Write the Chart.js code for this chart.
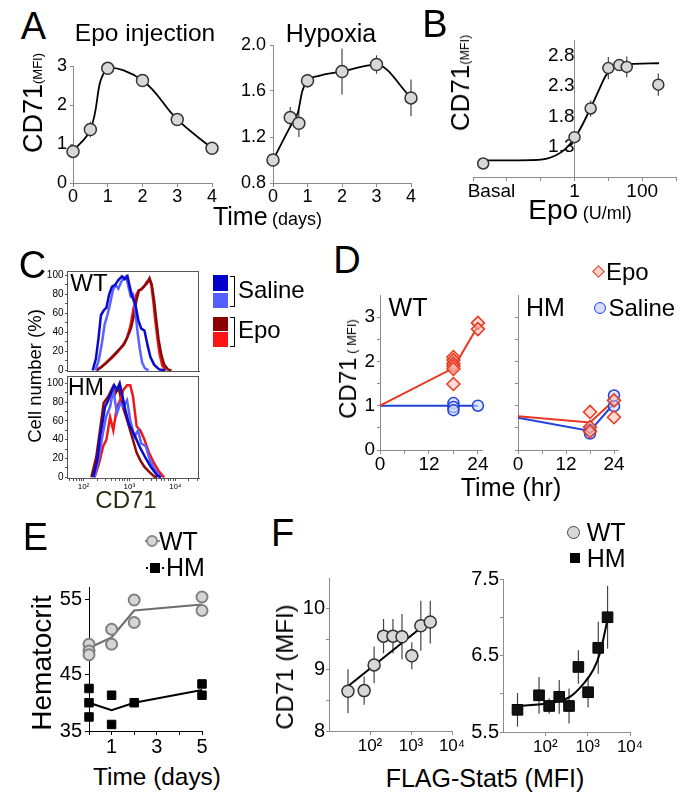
<!DOCTYPE html>
<html><head><meta charset="utf-8">
<script src="https://cdn.jsdelivr.net/npm/chart.js@4.4.1/dist/chart.umd.min.js"></script>
<style>
html,body{margin:0;padding:0;background:#fff;overflow:hidden}
#fig{position:relative;width:683px;height:801px;overflow:hidden;font-family:"Liberation Sans",Arial,Helvetica,sans-serif;color:#000}
#fig canvas{position:absolute}
.t{position:absolute;white-space:nowrap;line-height:1;transform:translate(-50%,-50%)}
.l{position:absolute;white-space:nowrap;line-height:1;transform:translate(0,-50%)}
.r{position:absolute;white-space:nowrap;line-height:1;transform:translate(-50%,-50%) rotate(-90deg)}
.m{position:absolute;box-sizing:border-box}
</style></head>
<body><div id="fig">
<div class="t" style="left:33.5px;top:26px;font-size:38px">A</div>
<div class="t" style="left:435px;top:23.5px;font-size:38px">B</div>
<div class="t" style="left:32.5px;top:264.5px;font-size:38px">C</div>
<div class="t" style="left:347px;top:260px;font-size:38px">D</div>
<div class="t" style="left:35.5px;top:537px;font-size:38px">E</div>
<div class="t" style="left:282.5px;top:532.5px;font-size:38px">F</div>

<div class="t" style="left:145px;top:33px;font-size:24.5px">Epo injection</div>
<div class="t" style="left:331px;top:33px;font-size:25px">Hypoxia</div>
<div class="r" style="left:33px;top:103px"><span style="font-size:27px">CD71</span><span style="font-size:13px">(MFI)</span></div>
<div class="t" style="left:267.5px;top:216px"><span style="font-size:25px">Time</span> <span style="font-size:18px">(days)</span></div>

<div class="r" style="left:460px;top:83px"><span style="font-size:26px">CD71</span><span style="font-size:12.5px">(MFI)</span></div>
<div class="t" style="left:580px;top:210px"><span style="font-size:28px">Epo</span> <span style="font-size:18px">(U/ml)</span></div>

<div class="t" style="left:89px;top:282.5px;font-size:24px">WT</div>
<div class="t" style="left:86px;top:386.5px;font-size:23px">HM</div>
<div class="r" style="left:35px;top:375.5px;font-size:18.5px">Cell number (%)</div>
<div class="t" style="left:126px;top:500px;font-size:24px;color:#2b2b10">CD71</div>
<div class="m" style="left:213px;top:275px;width:15px;height:15.5px;background:#0000CC"></div>
<div class="m" style="left:213px;top:292.5px;width:15px;height:15px;background:#5560FF"></div>
<div class="m" style="left:229.5px;top:276px;width:5px;height:31px;border:1.5px solid #000;border-left:none"></div>
<div class="l" style="left:238px;top:290px;font-size:24px">Saline</div>
<div class="m" style="left:213px;top:316.5px;width:15px;height:14px;background:#8B0000"></div>
<div class="m" style="left:213px;top:332px;width:15px;height:14.5px;background:#FF1414"></div>
<div class="m" style="left:229.5px;top:317px;width:5px;height:30px;border:1.5px solid #000;border-left:none"></div>
<div class="l" style="left:238px;top:330px;font-size:24px">Epo</div>

<div class="t" style="left:408px;top:306.5px;font-size:25px">WT</div>
<div class="t" style="left:545.5px;top:306.5px;font-size:25px">HM</div>
<div class="r" style="left:348px;top:369px"><span style="font-size:24px">CD71</span><span style="font-size:13px"> ( MFI)</span></div>
<div class="t" style="left:511px;top:487px;font-size:25px">Time (hr)</div>
<div class="m" style="left:593.5px;top:267.2px;width:9px;height:9px;border:1.5px solid #E9381F;background:#FAD3CB;transform:rotate(45deg)"></div>
<div class="l" style="left:606px;top:271.7px;font-size:24px">Epo</div>
<div class="m" style="left:594px;top:301.5px;width:12px;height:12px;border:1.5px solid #2242DA;background:#D6DFF7;border-radius:50%"></div>
<div class="l" style="left:608.5px;top:307.5px;font-size:24px">Saline</div>

<div class="m" style="left:145px;top:540px;width:15px;height:2px;background:#8a8a8a"></div>
<div class="m" style="left:145.7px;top:535px;width:12px;height:12px;border:2px solid #8a8a8a;background:#D6D6D6;border-radius:50%"></div>
<div class="l" style="left:159px;top:541px;font-size:25px">WT</div>
<div class="m" style="left:146px;top:566.5px;width:18px;height:0;border-top:2px dotted #000"></div>
<div class="m" style="left:150px;top:562.5px;width:10px;height:10px;background:#000"></div>
<div class="l" style="left:166px;top:567.3px;font-size:25px">HM</div>
<div class="r" style="left:41.7px;top:663px;font-size:28px">Hematocrit</div>
<div class="t" style="left:157px;top:776.7px;font-size:24.4px">Time (days)</div>

<div class="m" style="left:566.5px;top:525.7px;width:13px;height:13px;border:1.5px solid #444;background:#D8D8D8;border-radius:50%"></div>
<div class="l" style="left:586.7px;top:531.7px;font-size:25px">WT</div>
<div class="m" style="left:569.5px;top:552.7px;width:10px;height:10px;background:#000"></div>
<div class="l" style="left:586.7px;top:557.7px;font-size:25px">HM</div>
<div class="r" style="left:285px;top:666.7px;font-size:24px">CD71 (MFI)</div>
<div class="t" style="left:485px;top:778px;font-size:25px">FLAG-Stat5 (MFI)</div>
</div>
<script>
// ---------- Panel A ----------
const A_EPO_DAYS = [0, 0.5, 1, 2, 3, 4];
const A_EPO_CD71 = [0.81, 1.37, 2.94, 2.63, 1.63, 0.89];
const A_EPO_ERR  = [0.04, 0.2, 0.05, 0.04, 0.04, 0.03];
const A_HYP_DAYS = [0, 0.5, 0.75, 1, 2, 3, 4];
const A_HYP_CD71 = [1.0, 1.37, 1.32, 1.69, 1.77, 1.83, 1.54];
const A_HYP_ERR  = [0.02, 0.09, 0.12, 0.06, 0.2, 0.08, 0.16];
const A_HYP_FIT_DAYS = [0, 0.5, 0.72, 0.85, 1, 1.3, 2, 3, 4];
const A_HYP_FIT_CD71 = [1.0, 1.29, 1.41, 1.6, 1.69, 1.73, 1.77, 1.83, 1.54];
const A_X_TICKS = [0, 1, 2, 3, 4];
const A_EPO_Y_TICKS = [0, 1, 2, 3];
const A_HYP_Y_TICKS = [0.8, 1.2, 1.6, 2.0];
const A_HYP_Y_LABELS = ['0.8', '1.2', '1.6', '2.0'];

// ---------- Panel B ----------
const B_EPO  = [0.002, 1, 3, 10, 21, 35, 300];
const B_CD71 = [1.03, 1.46, 1.93, 2.59, 2.64, 2.61, 2.32];
const B_ERR  = [0.03, 0.05, 0.13, 0.18, 0.05, 0.17, 0.18];
const B_FIT_EPO  = [0.002, 0.087, 0.275, 0.54, 1, 1.7, 2.95, 5.25, 8.3, 13.2, 25.7, 316];
const B_FIT_CD71 = [1.08, 1.09, 1.16, 1.27, 1.44, 1.66, 1.93, 2.23, 2.46, 2.6, 2.65, 2.67];
const B_X_TICKS  = [0.001, 0.0035, 0.01, 0.1, 1, 10, 100, 1000];
const B_X_LABELS = ['', 'Basal', '', '', '1', '', '100', ''];
const B_Y_TICKS  = [1.3, 1.8, 2.3, 2.8];

// ---------- Panel C (log10 CD71 vs % of max) ----------
const C_WT_SAL1_X = [2.20, 2.27, 2.33, 2.38, 2.44, 2.50, 2.56, 2.62, 2.69, 2.76, 2.84, 2.90, 2.96, 3.01, 3.06, 3.13, 3.20, 3.26, 3.33, 3.40, 3.46, 3.54, 3.65, 3.78];
const C_WT_SAL1_Y = [0, 12, 35, 58, 63, 66, 80, 88, 90, 95, 99, 96, 99, 88, 78, 70, 52, 44, 42, 26, 14, 6, 1, 0];
const C_WT_SAL2_X = [2.26, 2.33, 2.40, 2.46, 2.52, 2.58, 2.64, 2.70, 2.76, 2.82, 2.88, 2.93, 2.98, 3.03, 3.08, 3.13, 3.18, 3.23, 3.28, 3.34, 3.42];
const C_WT_SAL2_Y = [0, 10, 28, 48, 58, 70, 84, 90, 86, 93, 97, 99, 88, 78, 80, 62, 40, 22, 8, 2, 0];
const C_WT_EPO1_X = [2.28, 2.38, 2.48, 2.58, 2.68, 2.78, 2.88, 2.96, 3.04, 3.10, 3.16, 3.21, 3.27, 3.33, 3.39, 3.44, 3.49, 3.54, 3.59, 3.64, 3.70, 3.76, 3.84, 3.92];
const C_WT_EPO1_Y = [0, 3, 7, 12, 17, 22, 27, 35, 45, 58, 75, 84, 86, 89, 92, 97, 90, 74, 52, 32, 16, 6, 1, 0];
const C_WT_EPO2_X = [2.28, 2.40, 2.52, 2.64, 2.74, 2.84, 2.94, 3.02, 3.08, 3.14, 3.20, 3.26, 3.32, 3.38, 3.44, 3.48, 3.52, 3.56, 3.61, 3.66, 3.72, 3.80];
const C_WT_EPO2_Y = [0, 4, 9, 14, 19, 25, 33, 46, 62, 78, 84, 85, 88, 93, 96, 90, 74, 55, 35, 17, 5, 0];
const C_HM_SAL1_X = [2.21, 2.30, 2.36, 2.41, 2.47, 2.54, 2.61, 2.67, 2.73, 2.79, 2.84, 2.91, 2.99, 3.06, 3.13, 3.24, 3.36, 3.47, 3.61, 3.69];
const C_HM_SAL1_Y = [0, 18, 43, 57, 75, 82, 91, 98, 93, 100, 89, 72, 57, 50, 43, 31, 20, 11, 2, 0];
const C_HM_SAL2_X = [2.24, 2.34, 2.41, 2.49, 2.58, 2.65, 2.73, 2.80, 2.87, 2.95, 3.02, 3.11, 3.19, 3.26, 3.36, 3.45, 3.56, 3.69];
const C_HM_SAL2_Y = [0, 22, 43, 64, 75, 93, 68, 79, 75, 82, 61, 43, 50, 36, 33, 18, 8, 0];
const C_HM_EPO1_X = [2.17, 2.28, 2.37, 2.44, 2.54, 2.64, 2.69, 2.76, 2.86, 2.95, 3.06, 3.16, 3.24, 3.33, 3.43, 3.54, 3.61];
const C_HM_EPO1_Y = [0, 22, 54, 79, 86, 96, 89, 96, 75, 61, 43, 26, 18, 11, 6, 1, 0];
const C_HM_EPO2_X = [2.24, 2.34, 2.43, 2.50, 2.58, 2.65, 2.73, 2.80, 2.87, 2.95, 3.02, 3.08, 3.16, 3.24, 3.33, 3.43, 3.54, 3.65, 3.76];
const C_HM_EPO2_Y = [0, 15, 33, 40, 64, 50, 75, 82, 93, 98, 98, 86, 54, 50, 40, 26, 15, 6, 0];
const C_Y_TICKS = [0, 10, 20, 30, 40, 50, 60, 70, 80, 90, 100];
const C_X_DECADES = [2, 3, 4];
const C_X_LABELS = ['10\u00B2', '10\u00B3', '10\u2074'];

// ---------- Panel D ----------
const D_WT_EPO_HR   = [18, 18, 18, 18, 18, 18, 24, 24];
const D_WT_EPO      = [2.10, 2.03, 1.95, 1.89, 1.83, 1.49, 2.87, 2.73];
const D_WT_EPO_MEAN = [1.0, 1.85, 2.8];
const D_WT_SAL_HR   = [18, 18, 18, 24];
const D_WT_SAL      = [1.06, 0.97, 0.9, 1.0];
const D_WT_SAL_MEAN = [1.0, 1.0, 1.0];
const D_HM_EPO_HR   = [18, 18, 18, 24, 24];
const D_HM_EPO      = [0.86, 0.52, 0.42, 1.12, 0.74];
const D_HM_EPO_MEAN = [0.76, 0.62, 1.12];
const D_HM_SAL_HR   = [18, 18, 24, 24];
const D_HM_SAL      = [0.45, 0.37, 1.23, 0.99];
const D_HM_SAL_MEAN = [0.73, 0.43, 1.05];
const D_MEAN_HR     = [0, 18, 24];
const D_X_TICKS  = [0, 6, 12, 18, 24];
const D_X_LABELS = ['0', '', '12', '', '24'];
const D_Y_TICKS  = [0, 0.5, 1, 1.5, 2, 2.5, 3];
const D_Y_LABELS = ['0', '', '1', '', '2', '', '3'];

// ---------- Panel E ----------
const E_WT_DAY  = [0, 0, 0, 1, 1, 2, 2, 5, 5];
const E_WT_HCT  = [49.1, 48.2, 47.7, 51.1, 49.1, 55.0, 52.0, 55.4, 53.6];
const E_HM_DAY  = [0, 0, 0, 1, 1, 2, 5, 5];
const E_HM_HCT  = [43.2, 41.3, 39.4, 42.3, 38.4, 41.3, 43.8, 42.3];
const E_MEAN_DAY = [0, 1, 2, 5];
const E_WT_MEAN = [48.6, 50.0, 53.6, 54.4];
const E_HM_MEAN = [41.3, 40.3, 41.3, 43.0];
const E_X_TICKS  = [0, 1, 2, 3, 4, 5];
const E_X_LABELS = ['', '1', '', '3', '', '5'];
const E_Y_TICKS  = [37.53, 45, 55];
const E_Y_LABELS = ['35', '45', '55'];

// ---------- Panel F ----------
const F_WT_STAT5 = [29, 72, 126, 214, 363, 603, 1047, 1738, 2951];
const F_WT_CD71  = [8.65, 8.66, 9.08, 9.55, 9.55, 9.54, 9.23, 9.72, 9.78];
const F_WT_ERR   = [0.36, 0.23, 0.3, 0.28, 0.28, 0.37, 0.22, 0.41, 0.35];
const F_WT_FIT_STAT5 = [29, 2951];
const F_WT_FIT_CD71  = [8.73, 9.81];
const F_HM_STAT5 = [22, 71, 123, 213, 363, 603, 1023, 1778, 2951];
const F_HM_CD71  = [5.79, 5.98, 5.84, 5.96, 5.84, 6.35, 6.02, 6.6, 7.0];
const F_HM_ERR   = [0.22, 0.24, 0.1, 0.22, 0.23, 0.22, 0.2, 0.34, 0.41];
const F_HM_FIT_STAT5 = [22, 129, 380, 794, 1349, 1950, 2951];
const F_HM_FIT_CD71  = [5.84, 5.88, 5.96, 6.13, 6.31, 6.53, 6.97];
const F_X_TICKS  = [100, 1000, 10000];
const F_X_LABELS = ['10\u00B2', '10\u00B3', '10\u2074'];
const F_WT_Y_TICKS  = [8, 8.5, 9, 9.5, 10];
const F_WT_Y_LABELS = ['8', '', '9', '', '10'];
const F_HM_Y_TICKS  = [5.5, 6, 6.5, 7, 7.5];
const F_HM_Y_LABELS = ['5.5', '', '6.5', '', '7.5'];

// ================= drawing =================
const FONT = '"Liberation Sans", Arial, Helvetica, sans-serif';
const GRAY = '#8c8c8c';
Chart.defaults.font.family = FONT;
Chart.defaults.color = '#000';

const errorBars = {
  id: 'errorBars',
  beforeDatasetsDraw(chart) {
    const ctx = chart.ctx;
    chart.data.datasets.forEach((ds, i) => {
      if (!ds.errors) return;
      const meta = chart.getDatasetMeta(i);
      const xs = chart.scales[meta.xAxisID], ys = chart.scales[meta.yAxisID];
      ctx.save();
      ctx.strokeStyle = ds.errorColor || '#444';
      ctx.lineWidth = 1.2;
      ds.data.forEach((p, j) => {
        const e = ds.errors[j];
        if (!e) return;
        const x = xs.getPixelForValue(p.x);
        ctx.beginPath();
        ctx.moveTo(x, ys.getPixelForValue(p.y - e));
        ctx.lineTo(x, ys.getPixelForValue(p.y + e));
        ctx.stroke();
      });
      ctx.restore();
    });
  }
};
const frame = {
  id: 'frame',
  afterDraw(chart, args, opts) {
    if (!opts || !opts.color) return;
    const a = chart.chartArea, ctx = chart.ctx;
    ctx.save(); ctx.strokeStyle = opts.color; ctx.lineWidth = 1;
    ctx.strokeRect(a.left + 0.5, a.top + 0.5, a.right - a.left - 1, a.bottom - a.top);
    ctx.restore();
  }
};
Chart.register(errorBars, frame);

const pts = (xs, ys) => xs.map((x, i) => ({ x, y: ys[i] }));
const lab = (vals, labels) => v => { const i = vals.findIndex(t => Math.abs(t - v) < 1e-9); return i >= 0 ? labels[i] : ''; };

function markers(xs, ys, o) {
  return Object.assign({ data: pts(xs, ys), showLine: false, pointRadius: 6, pointStyle: 'circle',
    pointBackgroundColor: '#D8D8D8', pointBorderColor: '#333', pointBorderWidth: 1.5, clip: false }, o);
}
function curve(xs, ys, o) {
  return Object.assign({ data: pts(xs, ys), showLine: true, pointRadius: 0, borderColor: '#000',
    borderWidth: 1.8, tension: 0, fill: false, clip: false }, o);
}
function scale(o) {
  const c = o.color || GRAY;
  return {
    type: o.type || 'linear', min: o.min, max: o.max, position: o.position,
    grid: { display: o.grid !== false, drawOnChartArea: false, drawTicks: true, tickLength: o.tl ?? 4,
      color: c, tickColor: o.tickColor || c, lineWidth: 1 },
    border: { display: true, color: c, width: 1 },
    ticks: { autoSkip: false, maxRotation: 0, minRotation: 0, padding: o.pad ?? 2, color: '#000',
      display: o.showLabels !== false,
      font: { size: o.fs || 18, family: FONT },
      callback: v => (o.label ? o.label(v) : String(v)) },
    afterBuildTicks: s => { s.ticks = o.ticks.map(v => ({ value: v })); }
  };
}
const zeroPad = s => { s.paddingLeft = 0; s.paddingRight = 0; s.paddingTop = 0; s.paddingBottom = 0; };

function mk(rect, pad, datasets, xs, ys, plugins) {
  const fig = document.getElementById('fig');
  const cv = document.createElement('canvas');
  const W = rect.r - rect.l + pad.l + pad.r, H = rect.b - rect.t + pad.t + pad.b;
  cv.width = W; cv.height = H;
  cv.style.left = (rect.l - pad.l) + 'px'; cv.style.top = (rect.t - pad.t) + 'px';
  cv.style.width = W + 'px'; cv.style.height = H + 'px';
  fig.insertBefore(cv, fig.firstChild);
  const floatY = typeof ys.position === 'object' && ys.position !== null;
  if (!floatY) ys.position = 'left';
  xs.position = 'bottom';
  xs.afterFit = s => { s.height = pad.b; zeroPad(s); };
  ys.afterFit = s => { if (!floatY) s.width = pad.l; zeroPad(s); };
  return new Chart(cv, {
    type: 'scatter',
    data: { datasets },
    options: {
      responsive: false, animation: false, devicePixelRatio: 1,
      layout: { padding: { top: pad.t, right: pad.r, left: floatY ? pad.l : 0, bottom: 0 } },
      scales: { x: xs, y: ys },
      plugins: Object.assign({ legend: { display: false }, tooltip: { enabled: false } }, plugins || {})
    }
  });
}

// ---- A: Epo injection
mk({ l: 73, t: 66, r: 212, b: 183 }, { l: 34, t: 14, r: 16, b: 30 }, [
  markers(A_EPO_DAYS, A_EPO_CD71, { errors: A_EPO_ERR }),
  curve(A_EPO_DAYS, A_EPO_CD71, { tension: 0.4 })
], scale({ min: 0, max: 4, ticks: A_X_TICKS, fs: 18, tl: 4, pad: -1 }),
   scale({ min: 0, max: 3, ticks: A_EPO_Y_TICKS, fs: 18, tl: 3, pad: 3 }));

// ---- A: Hypoxia
mk({ l: 273, t: 45, r: 411, b: 183 }, { l: 46, t: 14, r: 16, b: 30 }, [
  markers(A_HYP_DAYS, A_HYP_CD71, { errors: A_HYP_ERR }),
  curve(A_HYP_FIT_DAYS, A_HYP_FIT_CD71, { cubicInterpolationMode: 'monotone' })
], scale({ min: 0, max: 4, ticks: A_X_TICKS, fs: 18, tl: 4, pad: -1 }),
   scale({ min: 0.8, max: 2.0, ticks: A_HYP_Y_TICKS, label: lab(A_HYP_Y_TICKS, A_HYP_Y_LABELS), fs: 18, tl: 3, pad: 4 }));

// ---- B: Epo dose
const B_BASAL_AT = B_X_TICKS[B_X_LABELS.indexOf('Basal')];
mk({ l: 473, t: 40, r: 677, b: 177 }, { l: 22, t: 12, r: 6, b: 34 }, [
  markers(B_EPO, B_CD71, { errors: B_ERR, pointRadius: 5.5 }),
  curve(B_FIT_EPO, B_FIT_CD71, { cubicInterpolationMode: 'monotone' })
], scale({ type: 'logarithmic', min: 0.001, max: 1000, ticks: B_X_TICKS, label: lab(B_X_TICKS, B_X_LABELS),
           fs: 19, tl: 4, pad: -1, tickColor: ctx => (ctx.tick && Math.abs(ctx.tick.value - B_BASAL_AT) < 1e-9 ? 'rgba(0,0,0,0)' : GRAY) }),
   scale({ min: 0.809, max: 3.05, ticks: B_Y_TICKS, label: v => v.toFixed(1), position: { x: 1 }, grid: false, fs: 19, tl: 0, pad: 13 }));

// ---- C: histograms
const C_X_TICKS = [];
for (let d = 1; d <= 4; d++) for (let k = 1; k <= 9; k++) { const v = d + Math.log10(k); if (v >= 1.64 && v <= 4.52) C_X_TICKS.push(v); }
const cLine = (xs, ys, color) => curve(xs, ys, { borderColor: color, borderWidth: 2.5 });
const C_DB = '#0A0ACF', C_LB = '#5A62FF', C_DR = '#8B0A0A', C_RD = '#F01818';
mk({ l: 67, t: 271, r: 199, b: 371 }, { l: 24, t: 4, r: 4, b: 4 }, [
  cLine(C_WT_SAL1_X, C_WT_SAL1_Y, C_DB),
  cLine(C_WT_SAL2_X, C_WT_SAL2_Y, C_LB),
  cLine(C_WT_EPO1_X, C_WT_EPO1_Y, C_DR),
  cLine(C_WT_EPO2_X, C_WT_EPO2_Y, C_RD)
], scale({ min: 1.64, max: 4.52, ticks: C_X_TICKS, grid: false, showLabels: false, color: '#555', fs: 8 }),
   scale({ min: -0.7, max: 104.6, ticks: C_Y_TICKS, label: v => (v % 20 === 0 ? String(v) : ''), fs: 10, tl: 2, pad: 1.5, color: '#555' }),
   { frame: { color: '#555' } });
mk({ l: 67, t: 376, r: 199, b: 478 }, { l: 24, t: 4, r: 6, b: 16 }, [
  cLine(C_HM_SAL1_X, C_HM_SAL1_Y, C_DB),
  cLine(C_HM_SAL2_X, C_HM_SAL2_Y, C_LB),
  cLine(C_HM_EPO2_X, C_HM_EPO2_Y, C_RD),
  cLine(C_HM_EPO1_X, C_HM_EPO1_Y, C_DR)
], scale({ min: 1.64, max: 4.52, ticks: C_X_TICKS, label: lab(C_X_DECADES, C_X_LABELS), fs: 8, tl: 3, pad: 1, color: '#555' }),
   scale({ min: -0.75, max: 107.8, ticks: C_Y_TICKS, label: v => (v % 20 === 0 ? String(v) : ''), fs: 10, tl: 2, pad: 1.5, color: '#555' }),
   { frame: { color: '#555' } });

// ---- D
const D_RED = '#E9381F', D_BLUE = '#2242DA';
const dEpo = (xs, ys) => markers(xs, ys, { pointStyle: 'rectRot', pointRadius: 6.5, pointBackgroundColor: 'rgba(248,190,178,0.55)', pointBorderColor: D_RED, pointBorderWidth: 1.5 });
const dSal = (xs, ys) => markers(xs, ys, { pointRadius: 5.5, pointBackgroundColor: 'rgba(205,215,245,0.6)', pointBorderColor: D_BLUE, pointBorderWidth: 1.5 });
mk({ l: 380, t: 293, r: 482, b: 450 }, { l: 24, t: 6, r: 14, b: 30 }, [
  dEpo(D_WT_EPO_HR, D_WT_EPO),
  dSal(D_WT_SAL_HR, D_WT_SAL),
  curve(D_MEAN_HR, D_WT_EPO_MEAN, { borderColor: D_RED, borderWidth: 2 }),
  curve(D_MEAN_HR, D_WT_SAL_MEAN, { borderColor: D_BLUE, borderWidth: 2 })
], scale({ min: 0, max: 25, ticks: D_X_TICKS, label: lab(D_X_TICKS, D_X_LABELS), fs: 19, tl: 4, pad: -1 }),
   scale({ min: 0, max: 3.5, ticks: D_Y_TICKS, label: lab(D_Y_TICKS, D_Y_LABELS), fs: 19, tl: 3, pad: 2 }));
mk({ l: 518, t: 293, r: 618, b: 450 }, { l: 24, t: 6, r: 14, b: 30 }, [
  dEpo(D_HM_EPO_HR, D_HM_EPO),
  dSal(D_HM_SAL_HR, D_HM_SAL),
  curve(D_MEAN_HR, D_HM_EPO_MEAN, { borderColor: D_RED, borderWidth: 2 }),
  curve(D_MEAN_HR, D_HM_SAL_MEAN, { borderColor: D_BLUE, borderWidth: 2 })
], scale({ min: 0, max: 25, ticks: D_X_TICKS, label: lab(D_X_TICKS, D_X_LABELS), fs: 19, tl: 4, pad: -1 }),
   scale({ min: 0, max: 3.5, ticks: D_Y_TICKS, label: () => '', fs: 19, tl: 3, pad: 2 }));

// ---- E
mk({ l: 89, t: 587, r: 202, b: 731 }, { l: 34, t: 10, r: 14, b: 30 }, [
  markers(E_WT_DAY, E_WT_HCT, { pointRadius: 5.5, pointBackgroundColor: '#D6D6D6', pointBorderColor: '#808080', pointBorderWidth: 2 }),
  markers(E_HM_DAY, E_HM_HCT, { pointStyle: 'rect', pointRadius: 6, pointBackgroundColor: '#000', pointBorderColor: '#000', pointBorderWidth: 1 }),
  curve(E_MEAN_DAY, E_WT_MEAN, { borderColor: '#6e6e6e', borderWidth: 2.2 }),
  curve(E_MEAN_DAY, E_HM_MEAN, { borderColor: '#000', borderWidth: 2 })
], scale({ min: 0, max: 5, ticks: E_X_TICKS, label: lab(E_X_TICKS, E_X_LABELS), fs: 20, tl: 4, pad: 0, color: '#000' }),
   scale({ min: 37.53, max: 56.73, ticks: E_Y_TICKS, label: lab(E_Y_TICKS, E_Y_LABELS), fs: 20, tl: 4, pad: 3, color: '#000' }));

// ---- F
mk({ l: 329, t: 578, r: 452, b: 731 }, { l: 36, t: 10, r: 16, b: 30 }, [
  markers(F_WT_STAT5, F_WT_CD71, { errors: F_WT_ERR, pointRadius: 6 }),
  curve(F_WT_FIT_STAT5, F_WT_FIT_CD71, { borderWidth: 2 })
], scale({ type: 'logarithmic', min: 10, max: 10000, ticks: F_X_TICKS, label: lab(F_X_TICKS, F_X_LABELS), fs: 17, tl: 4, pad: 1 }),
   scale({ min: 8, max: 10.5, ticks: F_WT_Y_TICKS, label: lab(F_WT_Y_TICKS, F_WT_Y_LABELS), fs: 20, tl: 3, pad: 1 }));
mk({ l: 503, t: 579, r: 630, b: 732 }, { l: 40, t: 10, r: 20, b: 30 }, [
  markers(F_HM_STAT5, F_HM_CD71, { errors: F_HM_ERR, pointStyle: 'rect', pointRadius: 7.5, pointBackgroundColor: '#111', pointBorderColor: '#000', pointBorderWidth: 1 }),
  curve(F_HM_FIT_STAT5, F_HM_FIT_CD71, { borderWidth: 2, cubicInterpolationMode: 'monotone' })
], scale({ type: 'logarithmic', min: 10, max: 10000, ticks: F_X_TICKS, label: lab(F_X_TICKS, F_X_LABELS), fs: 17, tl: 4, pad: 1 }),
   scale({ min: 5.5, max: 7.5, ticks: F_HM_Y_TICKS, label: lab(F_HM_Y_TICKS, F_HM_Y_LABELS), fs: 20, tl: 3, pad: 1 }));
</script>
</body></html>
